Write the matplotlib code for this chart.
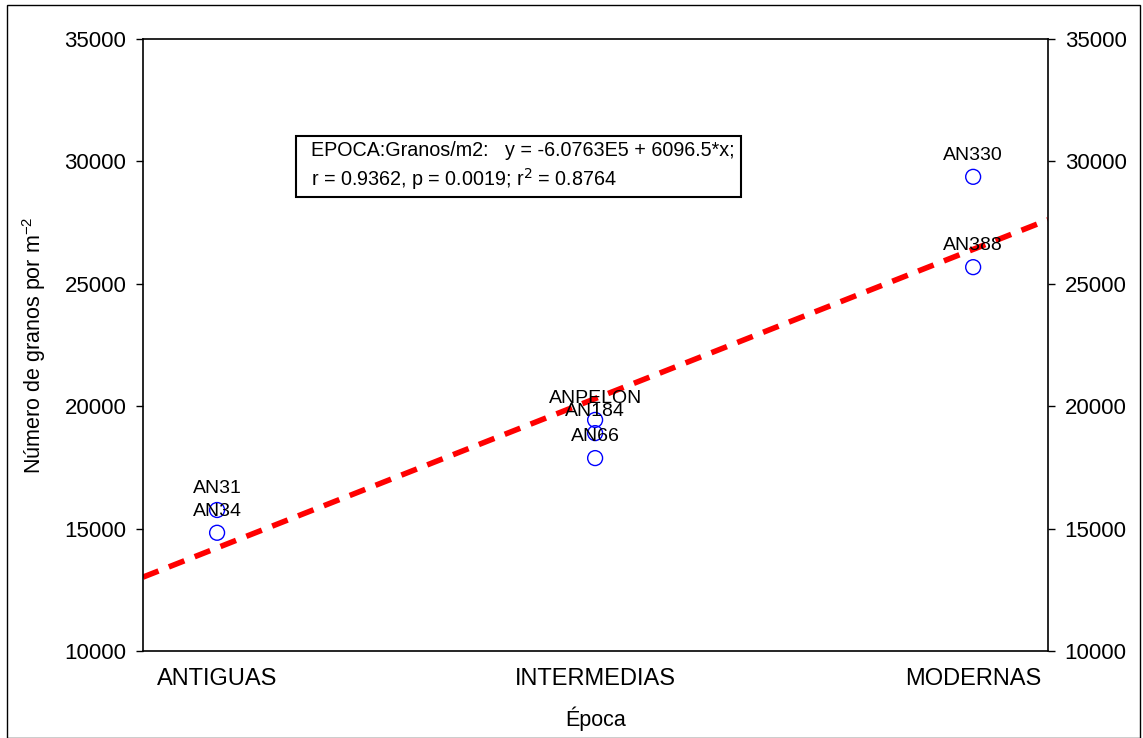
import matplotlib.pyplot as plt
import matplotlib.patches as mpatches
import numpy as np

plt.rcParams['font.family'] = ['Liberation Sans', 'DejaVu Sans']

# coded epoch value for each category
epoch_codes = [102, 103, 104]
epoch_names = ['ANTIGUAS', 'INTERMEDIAS', 'MODERNAS']

# cultivars: epoch code, grains per m2
cultivars = ['AN31', 'AN34', 'ANPELON', 'AN184', 'AN66', 'AN330', 'AN388']
cultivar_epoch = [102, 102, 103, 103, 103, 104, 104]
grains = [15760, 14830, 19440, 18900, 17880, 29370, 25680]

# fitted regression
intercept = -6.0763e5
slope = 6096.5

x_min, x_max = 101.804, 104.198
y_ticks = [10000, 15000, 20000, 25000, 30000, 35000]

fig = plt.figure(figsize=(11.43, 7.38), dpi=100)
ax = fig.add_axes([143 / 1143, 87 / 738, 905 / 1143, 612 / 738])

# regression line across the full x range
xs = np.array([x_min, x_max])
ax.plot(xs, intercept + slope * xs, color='#ff0000', lw=4,
        dashes=(3, 2), zorder=2)

ax.scatter(cultivar_epoch, grains, s=115, facecolors='none',
           edgecolors='#0000ff', linewidths=1.0, zorder=3)
for name, xv, yv in zip(cultivars, cultivar_epoch, grains):
    ax.annotate(name, (xv, yv), xytext=(0, 15.5), textcoords='offset points',
                ha='center', va='center', fontsize=14, zorder=4)

ax.set_xlim(x_min, x_max)
ax.set_ylim(10000, 35000)
ax.set_xticks(epoch_codes)
ax.set_xticklabels(epoch_names, fontsize=17)
ax.tick_params(axis='x', length=0, pad=12)
ax.set_yticks(y_ticks)
ax.tick_params(axis='y', which='both', direction='out', length=5,
               width=1, labelsize=16, pad=7, right=True, labelright=True)
for s in ax.spines.values():
    s.set_linewidth(1.2)

ax.set_xlabel('Época', fontsize=15.5, labelpad=12)
ax.set_ylabel('Número de granos por m$^{\\mathregular{-2}}$', fontsize=15.5,
              labelpad=12)

# regression summary box
ax.add_patch(mpatches.Rectangle((0.169, 0.7418), 0.4917, 0.0997,
                                transform=ax.transAxes, facecolor='white',
                                edgecolor='black', linewidth=1.5, zorder=5))
ax.text(0.1856, 0.7917,
        'EPOCA:Granos/m2:   y = -6.0763E5 + 6096.5*x;\n'
        r'r = 0.9362, p = 0.0019; r$^2$ = 0.8764',
        transform=ax.transAxes, fontsize=14.2, ha='left', va='center',
        linespacing=1.3, zorder=6)

# thin frame around the whole figure
fig.patches.append(mpatches.Rectangle((7 / 1143, 0), 1133 / 1143, 733 / 738,
                                      transform=fig.transFigure, fill=False,
                                      edgecolor='black', linewidth=1.0))

fig.savefig('out.png', dpi=100)
